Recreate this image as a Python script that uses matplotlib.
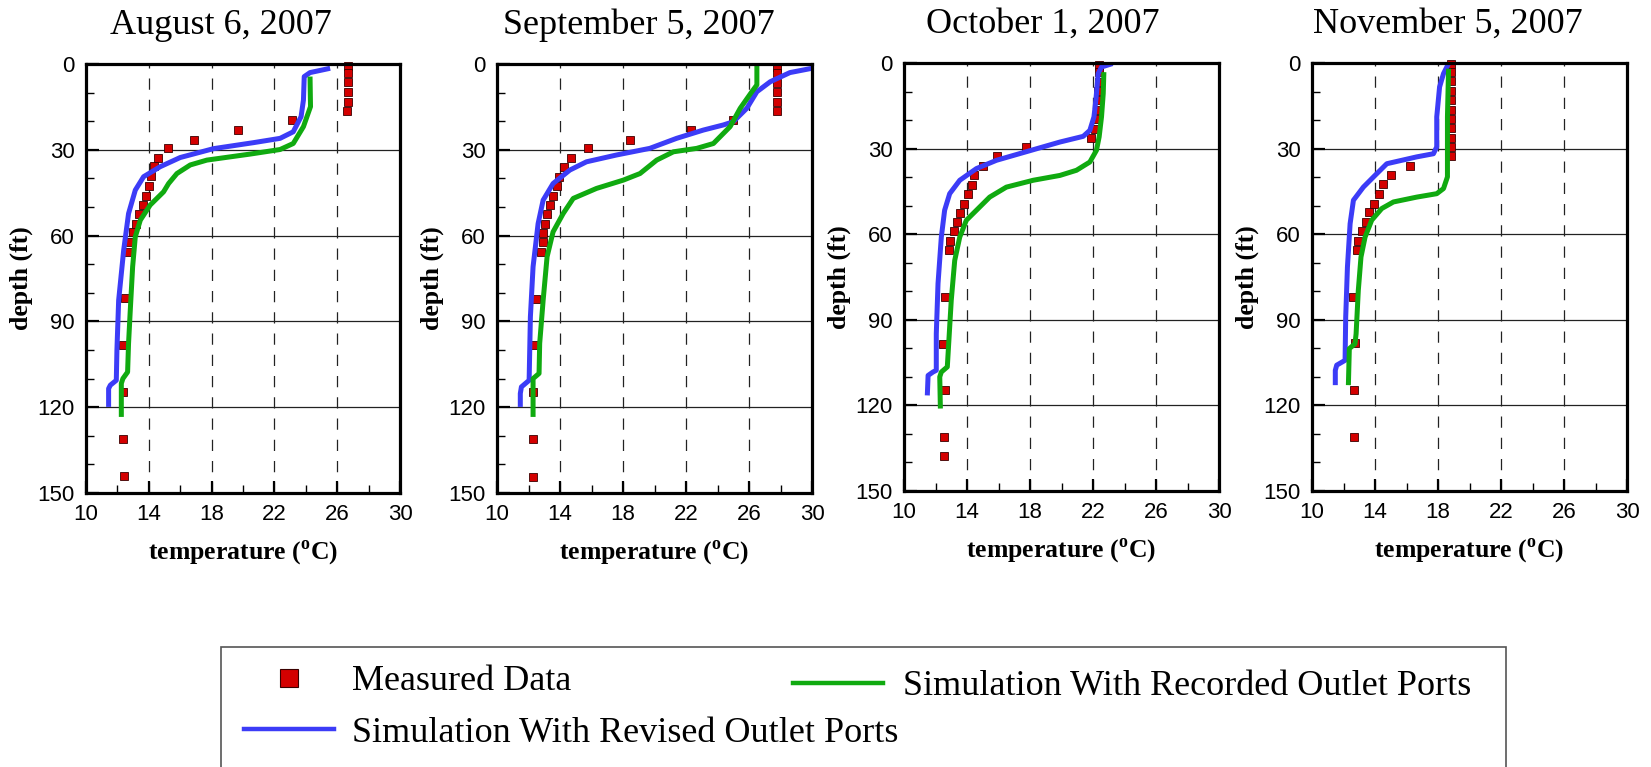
import matplotlib
matplotlib.use('Agg')
import matplotlib.pyplot as plt
from matplotlib.lines import Line2D
from matplotlib.patches import Rectangle
from matplotlib.font_manager import FontProperties

plt.rcParams['mathtext.fontset'] = 'custom'
plt.rcParams['mathtext.rm'] = 'Liberation Serif'
plt.rcParams['mathtext.bf'] = 'Liberation Serif:bold'
plt.rcParams['lines.scale_dashes'] = True

# ---------------- data ----------------
titles = ["August 6, 2007", "September 5, 2007", "October 1, 2007", "November 5, 2007"]

# Measured data (depth ft, temperature C)
aug_meas_d = [0.7, 3.3, 6.4, 9.9, 13.2, 16.6, 19.6, 23.0, 26.4, 29.5, 32.8, 35.8, 39.3, 42.6, 46.1,
              49.2, 52.5, 55.8, 58.9, 62.3, 65.6, 81.9, 98.4, 114.8, 131.1, 144.2]
aug_meas_t = [26.7, 26.7, 26.7, 26.7, 26.7, 26.6, 23.1, 19.7, 16.9, 15.2, 14.6, 14.35, 14.15, 14.0, 13.8,
              13.6, 13.4, 13.2, 13.0, 12.8, 12.7, 12.5, 12.35, 12.35, 12.35, 12.4]

sep_meas_d = [0.9, 3.3, 6.8, 9.9, 13.2, 16.4, 19.6, 23.0, 26.4, 29.5, 33.0, 35.9, 39.4, 42.7, 46.1,
              49.3, 52.6, 55.9, 59.1, 62.4, 65.7, 82.0, 98.3, 114.8, 131.2, 144.4]
sep_meas_t = [27.8, 27.8, 27.8, 27.8, 27.8, 27.8, 25.0, 22.3, 18.45, 15.75, 14.7, 14.25, 13.95, 13.8, 13.55,
              13.35, 13.2, 13.05, 12.95, 12.9, 12.8, 12.45, 12.35, 12.3, 12.3, 12.3]

oct_meas_d = [0.8, 3.3, 6.6, 9.8, 13.1, 16.4, 19.7, 23.0, 26.2, 29.4, 32.7, 36.0, 39.4, 42.6, 46.0,
              49.3, 52.5, 55.7, 59.0, 62.3, 65.5, 81.9, 98.4, 114.7, 131.1, 137.6]
oct_meas_t = [22.35, 22.35, 22.35, 22.3, 22.3, 22.25, 22.2, 22.1, 21.9, 17.75, 15.9, 15.0, 14.45, 14.3, 14.05,
              13.8, 13.55, 13.35, 13.2, 12.95, 12.85, 12.6, 12.5, 12.6, 12.55, 12.55]

nov_meas_d = [0.2, 3.2, 6.4, 9.7, 13.1, 16.4, 19.6, 22.9, 26.3, 29.6, 32.7, 36.1, 39.3, 42.5, 45.8,
              49.3, 52.3, 55.7, 59.0, 62.3, 65.5, 81.9, 98.2, 114.6, 131.1]
nov_meas_t = [18.85, 18.85, 18.85, 18.85, 18.85, 18.85, 18.85, 18.85, 18.85, 18.85, 18.85, 16.25, 15.0, 14.5, 14.25,
              13.95, 13.65, 13.45, 13.15, 12.95, 12.85, 12.6, 12.7, 12.65, 12.65]

# Simulation with revised outlet ports (blue)
aug_rev_t = [25.55, 24.27, 23.9, 23.85, 23.7, 23.2, 22.36, 20.67, 18.12, 16.0, 14.73, 13.67, 13.14, 12.71,
             12.4, 12.08, 11.97, 11.93, 11.55, 11.44, 11.44]
aug_rev_d = [1.5, 3.0, 4.4, 12.6, 18.4, 23.7, 26.0, 27.5, 29.6, 32.7, 35.9, 39.4, 44.1, 52.3,
             65.1, 82.6, 100.0, 110.6, 112.3, 113.5, 119.9]

sep_rev_t = [30.0, 28.6, 27.35, 26.5, 25.86, 25.0, 24.38, 23.1, 21.4, 19.7, 17.6, 15.68, 14.62, 13.56,
             12.93, 12.61, 12.29, 12.12, 12.04, 11.55, 11.48, 11.48]
sep_rev_d = [1.5, 3.0, 6.2, 9.7, 15.5, 20.2, 21.3, 23.1, 26.0, 29.5, 31.8, 34.2, 37.1, 41.8,
             47.6, 55.8, 70.9, 88.4, 110.6, 112.9, 115.2, 119.9]

oct_rev_t = [23.24, 22.54, 22.33, 22.18, 22.06, 21.8, 21.38, 19.9, 18.2, 15.87, 14.6, 13.54, 12.9, 12.58,
             12.37, 12.16, 12.05, 12.05, 11.84, 11.53, 11.48]
oct_rev_d = [0.2, 1.4, 3.7, 13.1, 18.9, 23.6, 25.7, 27.7, 30.4, 34.1, 37.0, 41.1, 45.8, 51.6,
             61.0, 77.3, 94.9, 107.7, 108.3, 109.5, 116.5]

nov_rev_t = [18.67, 18.35, 18.1, 17.92, 17.92, 17.71, 16.65, 14.75, 14.0, 13.26, 12.63, 12.42, 12.25,
             12.14, 12.1, 11.57, 11.48, 11.48]
nov_rev_d = [0.2, 3.7, 8.4, 18.9, 29.4, 31.8, 32.9, 35.3, 39.4, 43.5, 48.1, 56.3, 71.5,
             89.0, 104.2, 105.9, 107.7, 112.9]

# Simulation with recorded outlet ports (green)
aug_rec_t = [24.27, 24.3, 23.85, 23.2, 22.36, 20.45, 17.7, 16.64, 15.79, 15.26, 14.94, 14.09, 13.46,
             13.14, 12.97, 12.82, 12.71, 12.65, 12.35, 12.25, 12.25]
aug_rec_d = [4.4, 14.9, 21.9, 27.8, 29.9, 31.5, 33.6, 35.3, 38.3, 41.8, 44.7, 49.3, 54.6,
             60.4, 70.9, 86.1, 97.7, 107.7, 110.0, 111.7, 123.4]

sep_rec_t = [26.5, 26.5, 26.18, 25.44, 24.8, 23.74, 22.68, 21.2, 20.14, 19.08, 18.02, 16.32, 14.84,
             14.2, 13.56, 13.18, 12.93, 12.71, 12.67, 12.29, 12.29]
sep_rec_d = [0.0, 7.3, 9.7, 15.5, 21.9, 27.8, 29.5, 30.7, 33.6, 38.3, 40.6, 43.5, 47.0,
             52.3, 58.7, 67.4, 82.6, 97.7, 108.2, 110.0, 123.4]

oct_rec_t = [22.69, 22.65, 22.54, 22.39, 22.22, 21.8, 20.95, 19.9, 18.2, 16.5, 15.44, 14.6, 13.96,
             13.54, 13.22, 13.0, 12.75, 12.37, 12.27, 12.31]
oct_rec_d = [3.2, 10.7, 18.9, 25.9, 30.6, 34.7, 37.6, 39.4, 41.1, 43.5, 47.0, 51.6, 55.1,
             61.0, 69.2, 83.2, 106.5, 108.3, 110.0, 121.1]

nov_rec_t = [18.67, 18.6, 18.6, 18.35, 17.92, 16.65, 15.17, 14.43, 13.79, 13.37, 13.11, 12.94,
             12.8, 12.73, 12.37, 12.31]
nov_rec_d = [2.0, 18.9, 39.9, 44.0, 45.8, 47.0, 48.7, 51.0, 55.1, 61.0, 68.0, 79.7,
             94.9, 98.4, 100.1, 112.9]

x_major = [10, 14, 18, 22, 26, 30]
x_minor = [12, 16, 20, 24, 28]
y_major = [0, 30, 60, 90, 120, 150]
y_minor = [10, 20, 40, 50, 70, 80, 100, 110, 130, 140]

legend_labels = ["Measured Data", "Simulation With Revised Outlet Ports",
                 "Simulation With Recorded Outlet Ports"]

# ---------------- style ----------------
W, H = 1651, 767
BLUE = '#3c3cf7'
GREEN = '#10aa10'
RED = '#d40000'
rects = [(86, 64, 400, 493), (497, 64, 812, 493), (904, 63, 1219, 491), (1312, 63, 1627, 491)]
title_x = [0.43, 0.45, 0.44, 0.43]

meas = [(aug_meas_t, aug_meas_d), (sep_meas_t, sep_meas_d), (oct_meas_t, oct_meas_d), (nov_meas_t, nov_meas_d)]
rev = [(aug_rev_t, aug_rev_d), (sep_rev_t, sep_rev_d), (oct_rev_t, oct_rev_d), (nov_rev_t, nov_rev_d)]
rec = [(aug_rec_t, aug_rec_d), (sep_rec_t, sep_rec_d), (oct_rec_t, oct_rec_d), (nov_rec_t, nov_rec_d)]

fig = plt.figure(figsize=(W / 100, H / 100), dpi=100)

for i in range(4):
    l, t, r, b = rects[i]
    ax = fig.add_axes([l / W, 1 - b / H, (r - l) / W, (b - t) / H])
    ax.set_xlim(10, 30)
    ax.set_ylim(150, 0)
    ax.set_xticks(x_major)
    ax.set_xticks(x_minor, minor=True)
    ax.set_yticks(y_major)
    ax.set_yticks(y_minor, minor=True)
    ax.xaxis.grid(True, which='major', color='#222222', linewidth=0.9, linestyle=(0, (9, 8)))
    ax.yaxis.grid(True, which='major', color='#222222', linewidth=0.9, linestyle='-')
    ax.set_axisbelow(True)
    ax.tick_params(which='both', direction='in', top=False, right=False, color='k')
    ax.tick_params(which='major', length=9, width=1.6, pad=8)
    ax.tick_params(which='minor', length=5.5, width=1.0)
    for lab in ax.get_xticklabels() + ax.get_yticklabels():
        lab.set_fontfamily('Liberation Sans')
        lab.set_fontsize(16)
    for s in ax.spines.values():
        s.set_linewidth(2.3)
        s.set_zorder(6)

    mt, md = meas[i]
    ax.plot(mt, md, ls='none', marker='s', ms=5.6, mfc=RED, mec='#3a0000', mew=0.6, zorder=3, clip_on=False)
    rt, rd = rev[i]
    ax.plot(rt, rd, color=BLUE, lw=3.6, zorder=4, solid_joinstyle='round', solid_capstyle='butt')
    ct, cd = rec[i]
    ax.plot(ct, cd, color=GREEN, lw=3.6, zorder=4, solid_joinstyle='round', solid_capstyle='butt')

    ax.set_title(titles[i], x=title_x[i], pad=21.5, fontsize=26, family='Liberation Serif')
    ax.set_xlabel(r'temperature ($^{\mathbf{o}}$C)', fontsize=18.5, family='Liberation Serif',
                  fontweight='bold', labelpad=9)
    ax.set_ylabel('depth (ft)', fontsize=18.5, family='Liberation Serif', fontweight='bold', labelpad=3)

# ---------------- legend ----------------
h_meas = Line2D([], [], ls='none', marker='s', ms=13, mfc=RED, mec='#3a0000', mew=0.8)
h_rev = Line2D([], [], color=BLUE, lw=3.2)
h_rec = Line2D([], [], color=GREEN, lw=3.2)
lp = FontProperties(family='Liberation Serif', size=26)

legA = fig.legend([h_meas, h_rev], [legend_labels[0], legend_labels[1]], loc='upper left',
                  bbox_to_anchor=(244 / W, 1 - 665 / H), frameon=False, borderpad=0, borderaxespad=0,
                  handlelength=2.5, handletextpad=0.5, labelspacing=0.5, prop=lp)
legB = fig.legend([h_rec], [legend_labels[2]], loc='upper left',
                  bbox_to_anchor=(793 / W, 1 - 670 / H), frameon=False, borderpad=0, borderaxespad=0,
                  handlelength=2.5, handletextpad=0.55, prop=lp)

frame = Rectangle((221 / W, -0.05), (1506 - 221) / W, (767 - 647) / H + 0.05,
                  transform=fig.transFigure, fill=False, edgecolor='#555555', linewidth=1.2)
fig.add_artist(frame)

fig.savefig('out.png', dpi=100)
